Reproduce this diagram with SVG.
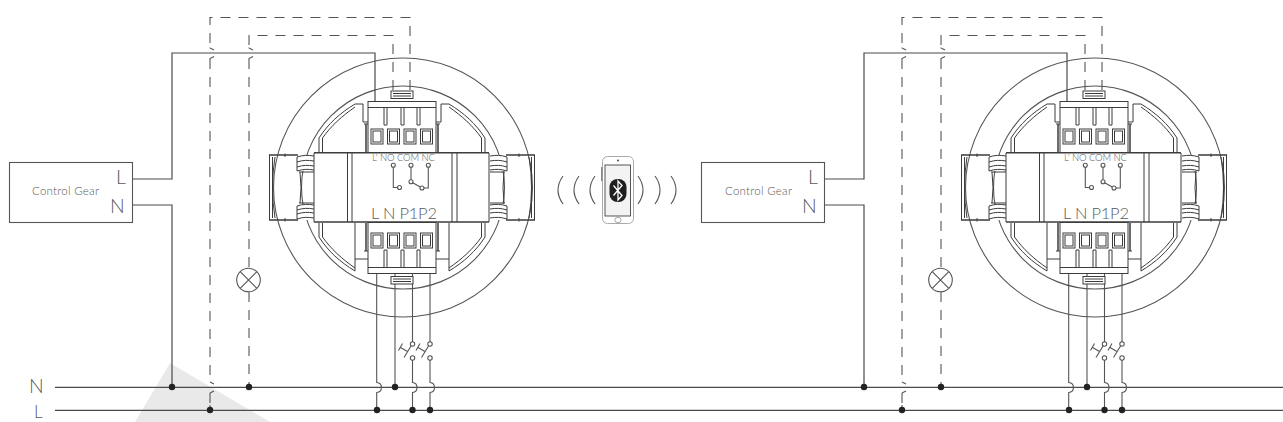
<svg xmlns="http://www.w3.org/2000/svg" xmlns:xlink="http://www.w3.org/1999/xlink" width="1283" height="422" viewBox="0 0 1283 422">
<style>
text{font-family:"Lato","Liberation Sans",sans-serif;font-weight:300;fill:#5a5a5a}
.w{fill:none;stroke:#4a4a4a;stroke-width:1.2}
.d{fill:none;stroke:#555;stroke-width:1.1;stroke-dasharray:10 8}
.s{fill:none;stroke:#555;stroke-width:1.1}
.l{fill:none;stroke:#3c3c3c;stroke-width:1}
.f{fill:#fff;stroke:#3c3c3c;stroke-width:1}
.t{fill:none;stroke:#3c3c3c;stroke-width:1.5}
.a{fill:none;stroke:#555;stroke-width:1.1}
</style>
<defs>
<g id="dots"><circle cx="0" cy="0" r="3.2" fill="#222"/></g>
<g id="guard">
<path class="l" d="M319,152V138C328,124 340,113 355,104H363V116"/>
<path class="l" d="M322.500,152V138C331,126 342,116 355,107"/>
<path class="l" d="M363,116V122H368"/>
</g>
<g id="guardb">
<path class="l" d="M319,223V237C328,251 340,262 355,271V223"/>
<path class="l" d="M322.500,223V237C331,249 342,259 355,268"/>
<path class="l" d="M355,259H368"/>
</g>
<g id="flange">
<path d="M297,155H314V171H297Z" fill="#fff"/>
<path d="M297,204H314V220H297Z" fill="#fff"/>
<path class="t" d="M269,155H298M269,220H298"/>
<path class="l" d="M269.500,155V220M272.500,157V218M285,153.500V157M285,218V221.500M275,157Q270,187.500 275,218"/>
<path class="l" d="M299,172H314M300,172Q302,187.500 300,203M299,203H314"/>
<path class="l" d="M297,157C303,155 308,155 314,156M297,157V162C303,160 308,160 314,161M297,162V167C303,165 308,165 314,166M297,167V171C303,169 308,169 314,170"/>
<path class="l" d="M297,206C303,204 308,204 314,205M297,206V210C303,208 308,208 314,209M297,210V214C303,212 308,212 314,213M297,214V219C303,217 308,217 314,218"/>
</g>
<g id="squares">
<rect class="l" x="371" y="129" width="12" height="15"/><rect class="l" x="373" y="131" width="8" height="11"/>
<rect class="l" x="387.500" y="129" width="12" height="15"/><rect class="l" x="389.500" y="131" width="8" height="11"/>
<rect class="l" x="404" y="129" width="12" height="15"/><rect class="l" x="406" y="131" width="8" height="11"/>
<rect class="l" x="420.500" y="129" width="12" height="15"/><rect class="l" x="422.500" y="131" width="8" height="11"/>
</g>
<g id="conn">
<rect class="f" x="368" y="101.500" width="68" height="51"/>
<path class="l" d="M368,107.500H436"/>
<path class="t" d="M366,124V152M438,124V152"/>
<path class="l" d="M368,124H364M436,124H440"/>
<path class="l" d="M384,108V125H387V108M401,108V125H404V108M417,108V125H420V108"/>
<rect class="f" x="391" y="91" width="22" height="7.500"/>
<path class="l" d="M393,93.500H411M393,96H411"/>
</g>
<g id="device">
<circle class="a" cx="403" cy="187.500" r="129.500"/>
<circle class="a" cx="403" cy="187.500" r="101.500"/>
<use href="#guard"/><use href="#guard" transform="translate(804,0) scale(-1,1)"/>
<use href="#guardb"/><use href="#guardb" transform="translate(804,0) scale(-1,1)"/>
<use href="#flange"/><use href="#flange" transform="translate(804,0) scale(-1,1)"/>
<rect x="314" y="153" width="175" height="69" fill="#fff"/>
<path class="t" d="M314,152.700H489M314,222H489"/>
<path class="l" d="M314,153V222M489,153V222M347.500,153V222M352,153V222M452,153V222M457,153V222"/>
<use href="#conn"/><use href="#squares"/>
<use href="#conn" transform="translate(0,375) scale(1,-1)"/><use href="#squares" transform="translate(0,104)"/>
<circle class="a" cx="393.300" cy="165.300" r="2"/><circle class="a" cx="411" cy="165.300" r="2"/><circle class="a" cx="428.300" cy="165.300" r="2"/>
<circle class="a" cx="399.500" cy="187.500" r="2"/><circle class="a" cx="411" cy="181.700" r="2"/><circle class="a" cx="422" cy="188" r="2"/>
<path class="a" d="M393.300,167.300V187.500H397.500M411,167.300V179.700M412.700,182.700L420.300,187M428.300,167.300V188H424"/>
</g>
<g id="sw">
<circle class="a" cx="0" cy="0" r="2.200"/><circle class="a" cx="0" cy="14" r="2.200"/>
<path class="a" d="M-1.300,1.800L-8.500,13.500M-5,7.500L-12,3.500M-10,-0.500L-14,6.500"/>
</g>
<g id="lamp">
<circle class="a" cx="0" cy="0" r="11.800"/><path class="a" d="M-8.300,-8.300L8.300,8.300M-8.300,8.300L8.300,-8.300"/>
</g>
<g id="wires">
<path class="w" d="M132,179H172V53H375V101.500"/>
<path class="w" d="M132,205H172V387"/>
<path class="s" d="M376.700,274V382.500C383,383 383,392 376.700,392.500V410"/>
<path class="s" d="M395,274V387"/>
<path class="s" d="M412.500,274V342M412.500,360V382.500C418.500,383 418.500,392 412.500,392.500V410"/>
<path class="s" d="M430,274V342M430,360V382.500C436,383 436,392 430,392.500V410"/>
<path class="d" d="M410,90V17.500H210V47.500"/>
<path class="s" d="M210,47.500V48L214,50M214,56.500L210,58.500V59"/>
<path class="d" d="M210,59V382"/>
<path class="s" d="M210,382L214,384M214,391L210,393"/>
<path class="d" d="M210,393V406"/>
<path class="s" d="M210,405V410"/>
<path class="d" d="M393,90V35.500H249V47.500"/>
<path class="s" d="M249,47.500V48L253,50M253,56.500L249,58.500V59"/>
<path class="d" d="M249,59V268"/>
<path class="d" d="M249,292V387"/>
</g>
<g id="wdots">
<use href="#dots" x="172" y="387"/><use href="#dots" x="249" y="387"/><use href="#dots" x="395" y="387"/>
<use href="#dots" x="210" y="410"/><use href="#dots" x="377" y="410"/><use href="#dots" x="412.500" y="410"/><use href="#dots" x="430" y="410"/>
<use href="#sw" x="412.500" y="344"/><use href="#sw" x="430" y="344"/>
</g>
</defs>
<polygon id="watermark" points="135,422 170,363 270,422" fill="#e9e9e9"/>
<g id="connectors">
<path class="w" d="M55,387.300H1283M55,410.300H1283"/>
<use href="#wires"/><use href="#wdots"/>
<use href="#wires" x="692"/><use href="#wdots" x="692"/>
</g>
<g id="bus-labels">
<text x="29" y="393" font-size="19.500">N</text>
<text x="34" y="417.500" font-size="17">L</text>
</g>
<g id="gear-1">
<rect class="s" x="9.500" y="162.500" width="123" height="60" fill="#fff"/>
<text x="32" y="195" font-size="11.500" textLength="67" lengthAdjust="spacing">Control Gear</text>
<text x="116" y="184" font-size="19.500">L</text>
<text x="110" y="213" font-size="19.500">N</text>
</g>
<g id="gear-2">
<rect class="s" x="701.500" y="162.500" width="123" height="60" fill="#fff"/>
<text x="725" y="195" font-size="11.500" textLength="67" lengthAdjust="spacing">Control Gear</text>
<text x="808" y="184" font-size="19.500">L</text>
<text x="802" y="213" font-size="19.500">N</text>
</g>
<g id="lamp-1"><use href="#lamp" x="248.500" y="280"/></g>
<g id="lamp-2"><use href="#lamp" x="940.500" y="280"/></g>
<g id="device-1">
<use href="#device"/>
<text x="372" y="161" font-size="9.500" textLength="63" lengthAdjust="spacing">L' NO COM NC</text>
<text x="371" y="219" font-size="16.500" textLength="66" lengthAdjust="spacing">L N P1P2</text>
</g>
<g id="device-2">
<use href="#device" x="692"/>
<text x="1064" y="161" font-size="9.500" textLength="63" lengthAdjust="spacing">L' NO COM NC</text>
<text x="1063" y="219" font-size="16.500" textLength="66" lengthAdjust="spacing">L N P1P2</text>
</g>
<g id="phone">
<path class="a" d="M563,176Q553,190 563,204M579,176Q569,190 579,204M595,176Q585,190 595,204" stroke-width="1.300"/>
<path class="a" d="M638,176Q648,190 638,204M655,176Q665,190 655,204M671,176Q681,190 671,204" stroke-width="1.300"/>
<rect x="602.500" y="156.500" width="31" height="67" rx="5" fill="#fff" stroke="#aaa"/>
<rect x="605" y="165" width="25.500" height="51" fill="#f3f3f3" stroke="#444" stroke-width="0.900"/>
<rect x="601" y="167" width="1.500" height="14" fill="#888"/>
<circle cx="618" cy="160.500" r="0.900" fill="#333"/>
<rect x="615" y="217.500" width="6" height="5" rx="2" fill="none" stroke="#888" stroke-width="0.700"/>
<rect x="609.500" y="179" width="17" height="23" rx="8" fill="#1f1f1f"/>
<path d="M613.500,185.500L622,195.500L618,200V181L622,185.500L613.500,195.500" fill="none" stroke="#fff" stroke-width="1.300"/>
</g>
</svg>
